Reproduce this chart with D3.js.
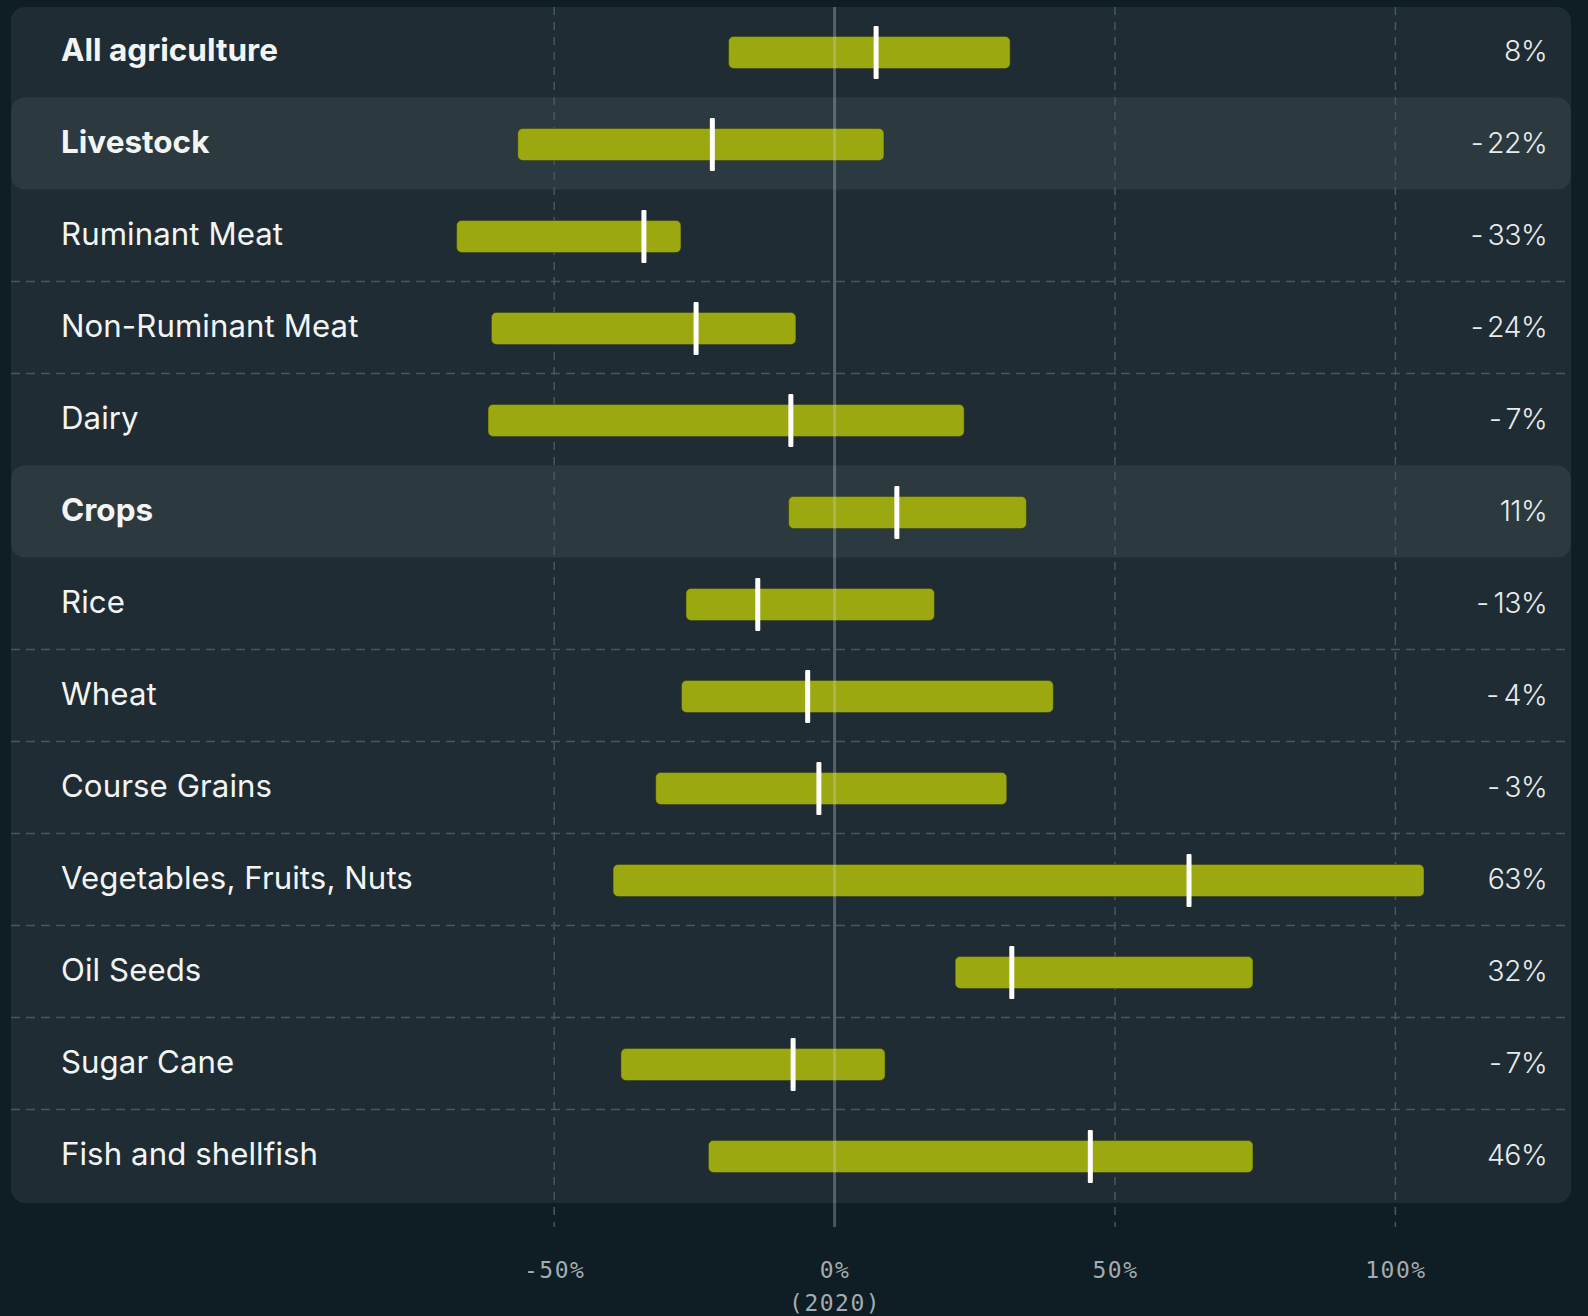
<!DOCTYPE html>
<html><head><meta charset="utf-8">
<script src="https://cdn.jsdelivr.net/npm/d3@7"></script>
<style>
html,body{margin:0;padding:0;background:#0f1d24;}
svg{display:block;}
</style></head>
<body>
<svg id="chart" width="1588" height="1316"></svg>
<script>
const categories = ["All agriculture","Livestock","Ruminant Meat","Non-Ruminant Meat","Dairy","Crops","Rice","Wheat","Course Grains","Vegetables, Fruits, Nuts","Oil Seeds","Sugar Cane","Fish and shellfish"];
const groupRows = ["All agriculture","Livestock","Crops"];
const highlighted = ["Livestock","Crops"];
const lowValues  = [-18.9,-56.5,-67.4,-61.2,-61.8,-8.2,-26.5,-27.3,-31.9,-39.5,21.5,-38.1,-22.5];
const highValues = [31.3,8.8,-27.4,-6.9,23.1,34.2,17.8,39.0,30.7,105.1,74.6,9.0,74.6];
const midValues  = [7.4,-21.8,-34.0,-24.7,-7.8,11.1,-13.7,-4.8,-2.8,63.2,31.6,-7.4,45.6];
const valueLabels = ["8%","-22%","-33%","-24%","-7%","11%","-13%","-4%","-3%","63%","32%","-7%","46%"];
const tickValues = [-50,0,50,100];
const tickLabels = ["-50%","0%","50%","100%"];

const svg = d3.select("#chart");
const card = {x:11, y:7, w:1560, h:1196};
const rowH = 92;
const x = d3.scaleLinear().domain([-50,100]).range([554.2,1395.4]);
const y = d3.scaleBand().domain(categories).range([card.y, card.y + rowH*categories.length]).paddingInner(0).paddingOuter(0);
const gridBottom = 1227;

const data = categories.map((c,i)=>({cat:c, lo:lowValues[i], hi:highValues[i], mid:midValues[i], label:valueLabels[i]}));

// card
svg.append("rect").attr("x",card.x).attr("y",card.y).attr("width",card.w).attr("height",card.h)
  .attr("rx",14).attr("fill","#1f2c34");

// highlighted rows
svg.append("g").selectAll("rect").data(data.filter(d=>highlighted.includes(d.cat))).join("rect")
  .attr("x",card.x).attr("y",d=>y(d.cat)-1.5).attr("width",card.w).attr("height",y.bandwidth())
  .attr("rx",14).attr("fill","#2c3a40");

// horizontal separators
const seps = [];
for(let i=0;i<categories.length-1;i++){
  const a=categories[i], b=categories[i+1];
  if(!highlighted.includes(a) && !highlighted.includes(b)) seps.push(b);
}
svg.append("g").selectAll("line").data(seps).join("line")
  .attr("x1",card.x).attr("x2",card.x+card.w)
  .attr("y1",d=>y(d)-1.5).attr("y2",d=>y(d)-1.5)
  .attr("stroke","#47565d").attr("stroke-width",1.6).attr("stroke-dasharray","9,6");

// vertical gridlines
svg.append("g").selectAll("line").data(tickValues.filter(v=>v!==0)).join("line")
  .attr("x1",d=>x(d)).attr("x2",d=>x(d)).attr("y1",card.y).attr("y2",gridBottom)
  .attr("stroke","#48575e").attr("stroke-width",1.5).attr("stroke-dasharray","8,7");

// bars
svg.append("g").selectAll("rect").data(data).join("rect")
  .attr("x",d=>x(d.lo)).attr("width",d=>x(d.hi)-x(d.lo))
  .attr("y",d=>y(d.cat)+45.5-16).attr("height",32)
  .attr("rx",5).attr("fill","#9ca80f").attr("stroke","rgba(40,50,10,0.45)").attr("stroke-width",1);

// zero line
svg.append("line").attr("x1",x(0)).attr("x2",x(0)).attr("y1",card.y).attr("y2",gridBottom)
  .attr("stroke","rgba(200,210,215,0.32)").attr("stroke-width",3);

// markers
svg.append("g").selectAll("rect").data(data).join("rect")
  .attr("x",d=>x(d.mid)-2.5).attr("width",5)
  .attr("y",d=>y(d.cat)+45.5-26.5).attr("height",53)
  .attr("rx",1).attr("fill","#ffffff");

// category labels
svg.append("g").selectAll("text").data(data).join("text")
  .attr("x",61).attr("y",d=>y(d.cat)+53.5)
  .attr("font-family","Inter, 'Noto Sans', sans-serif")
  .attr("font-size",d=>groupRows.includes(d.cat)?31.5:31.2)
  .attr("letter-spacing",d=>groupRows.includes(d.cat)?0:0.08)
  .attr("font-weight",d=>groupRows.includes(d.cat)?700:400)
  .attr("fill","#f3f5f5")
  .text(d=>d.cat);

// value labels
const vl = svg.append("g").selectAll("text").data(data).join("text")
  .attr("x",1547).attr("y",d=>y(d.cat)+53.5)
  .attr("text-anchor","end")
  .attr("font-family","Inter, 'Noto Sans', sans-serif")
  .attr("font-size",28.5).attr("font-weight",300).attr("letter-spacing",-0.6)
  .attr("fill","#e8ebec");
vl.each(function(d){
  const t = d3.select(this);
  if(d.label.startsWith("-")){
    t.append("tspan").text("-");
    t.append("tspan").attr("dx",5).text(d.label.slice(1));
  } else t.text(d.label);
});

// axis
const axis = d3.axisBottom(x).tickValues(tickValues).tickFormat((d,i)=>tickLabels[i]).tickSize(0).tickPadding(0);
const ag = svg.append("g").attr("transform","translate(0,1261)").call(axis);
ag.select(".domain").remove();
ag.selectAll("text")
  .attr("font-family","'DejaVu Sans Mono', monospace")
  .attr("font-size",23).attr("letter-spacing",1.5)
  .attr("fill","#a3acb0").attr("dy","0.72em");
ag.selectAll(".tick").filter(d=>d===0).append("text")
  .attr("y",33).attr("dy","0.72em").attr("text-anchor","middle")
  .attr("font-family","'DejaVu Sans Mono', monospace")
  .attr("font-size",23).attr("letter-spacing",1.5)
  .attr("fill","#a3acb0").text("(2020)");
</script>
</body></html>
